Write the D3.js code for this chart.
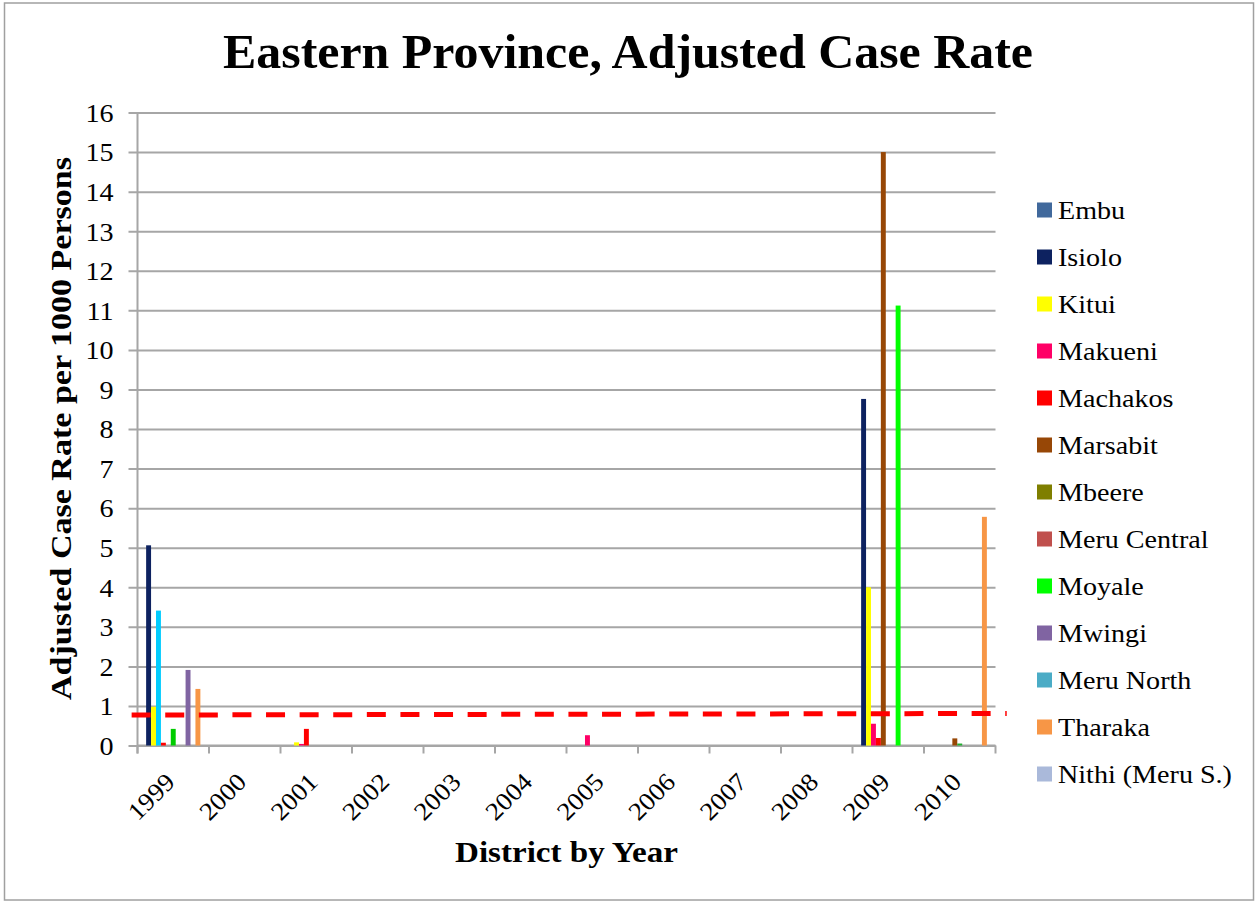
<!DOCTYPE html>
<html>
<head>
<meta charset="utf-8">
<script src="https://cdn.jsdelivr.net/npm/d3@7"></script>
<style>
  html, body { margin: 0; padding: 0; background: #fff; }
  svg { display: block; }
  text { font-family: "Liberation Serif", "Times New Roman", serif; fill: #000; }
</style>
</head>
<body>
<svg id="chart" width="1259" height="903"></svg>
<script>
// ---------- DATA ----------
const years = ["1999","2000","2001","2002","2003","2004","2005","2006","2007","2008","2009","2010"];
const districts = ["Embu","Isiolo","Kitui","Makueni","Machakos","Marsabit","Mbeere","Meru Central","Moyale","Mwingi","Meru North","Tharaka","Nithi (Meru S.)"];
const embu        = [0,    0, 0,    0, 0, 0, 0,    0, 0, 0, 0,     0];
const isiolo      = [5.06, 0, 0,    0, 0, 0, 0,    0, 0, 0, 8.76,  0];
const kitui       = [0.98, 0, 0.08, 0, 0, 0, 0,    0, 0, 0, 4.0,   0];
const makueni     = [3.41, 0, 0.04, 0, 0, 0, 0.26, 0, 0, 0, 0.55,  0];
const machakos    = [0.07, 0, 0.42, 0, 0, 0, 0,    0, 0, 0, 0.19,  0];
const marsabit    = [0,    0, 0,    0, 0, 0, 0,    0, 0, 0, 15.0,  0.18];
const mbeere      = [0.42, 0, 0,    0, 0, 0, 0,    0, 0, 0, 0,     0.05];
const meruCentral = [0,    0, 0,    0, 0, 0, 0,    0, 0, 0, 0,     0];
const moyale      = [0,    0, 0,    0, 0, 0, 0,    0, 0, 0, 11.12, 0];
const mwingi      = [1.91, 0, 0,    0, 0, 0, 0,    0, 0, 0, 0,     0];
const meruNorth   = [0,    0, 0,    0, 0, 0, 0,    0, 0, 0, 0,     0];
const tharaka     = [1.43, 0, 0,    0, 0, 0, 0,    0, 0, 0, 0,     5.78];
const nithi       = [0,    0, 0,    0, 0, 0, 0,    0, 0, 0, 0,     0];
const yTicks = [0,1,2,3,4,5,6,7,8,9,10,11,12,13,14,15,16];
const referenceLevel = [0.77, 0.81]; // dashed reference line, start/end value

// ---------- STYLE ----------
const seriesValues = [embu, isiolo, kitui, makueni, machakos, marsabit, mbeere, meruCentral, moyale, mwingi, meruNorth, tharaka, nithi];
const colors = ["#41699C","#0D2260","#FFFF00","#FF0066","#FF0000","#974706","#7F7F00","#C0504D","#00FF00","#8064A2","#4BACC6","#F79646","#AAB9DA"];
// individually recoloured points (series index, year index)
const pointColor = { "3-0": "#00CCFF", "6-0": "#00CC00", "6-11": "#22B030" };

const W = 1259, H = 903;
const plot = { left: 137.5, right: 995.5, top: 112.5, bottom: 745.5 };
const gridColor = "#A6A6A6";
const STRETCH = 1.08;

const svg = d3.select("#chart");

function stretch(sel, f) {
  sel.each(function() {
    const len = this.getComputedTextLength();
    d3.select(this).attr("textLength", len * f).attr("lengthAdjust", "spacingAndGlyphs");
  });
  return sel;
}

// border
svg.append("rect").attr("x", 4.5).attr("y", 3).attr("width", 1249).attr("height", 897)
  .attr("fill", "#fff").attr("stroke", "#A0A0A0").attr("stroke-width", 1.5);

// scales
const x0 = d3.scaleBand().domain(years).range([plot.left, plot.right]).paddingInner(0).paddingOuter(0);
const x1 = d3.scaleBand().domain(districts).range([0, x0.bandwidth()]).paddingInner(0).paddingOuter(0.75);
const y = d3.scaleLinear().domain([0, 16]).range([plot.bottom, plot.top]);
const xLin = d3.scaleLinear().domain([0, years.length]).range([plot.left, plot.right]);

// y axis with gridlines
const yAxis = d3.axisLeft(y).tickValues(yTicks).tickSize(-(plot.right - plot.left)).tickSizeOuter(0).tickPadding(0).tickFormat(d3.format("d"));
const gy = svg.append("g").attr("transform", `translate(${plot.left},0)`).call(yAxis);
gy.select(".domain").remove();
gy.selectAll(".tick line").attr("stroke", gridColor).attr("stroke-width", 2).attr("x1", -9);
gy.selectAll(".tick text").attr("x", -24).attr("dy", "0.34em").attr("text-anchor", "end")
  .style("font-family", "Liberation Serif").style("font-size", "26px").attr("fill", "#000");
stretch(gy.selectAll(".tick text"), STRETCH);
// vertical axis line
svg.append("line").attr("x1", plot.left).attr("x2", plot.left).attr("y1", plot.top).attr("y2", plot.bottom + 8)
  .attr("stroke", gridColor).attr("stroke-width", 2);

// x axis (baseline and tick marks at group boundaries)
const boundaries = d3.range(years.length + 1);
svg.append("line").attr("x1", plot.left).attr("x2", plot.right).attr("y1", plot.bottom).attr("y2", plot.bottom)
  .attr("stroke", gridColor).attr("stroke-width", 2);
svg.append("g").selectAll("line").data(boundaries).join("line")
  .attr("x1", d => xLin(d)).attr("x2", d => xLin(d))
  .attr("y1", plot.bottom).attr("y2", plot.bottom + 8)
  .attr("stroke", gridColor).attr("stroke-width", 2);

// x tick labels (rotated)
const xl = svg.append("g").selectAll("text").data(years).join("text")
  .attr("transform", d => `translate(${x0(d) + x0.bandwidth() / 2 + 3},${plot.bottom + 38}) rotate(-45)`)
  .attr("text-anchor", "end")
  .style("font-size", "25px")
  .text(d => d);
stretch(xl, STRETCH);

// bars
const barData = [];
seriesValues.forEach((vals, si) => {
  vals.forEach((v, yi) => {
    if (v > 0) barData.push({ si, yi, v });
  });
});
svg.append("g").selectAll("rect").data(barData).join("rect")
  .attr("x", d => x0(years[d.yi]) + x1(districts[d.si]))
  .attr("width", x1.bandwidth())
  .attr("y", d => y(d.v))
  .attr("height", d => y(0) - y(d.v))
  .attr("fill", d => pointColor[`${d.si}-${d.yi}`] || colors[d.si]);

// dashed reference line
const refX = [-0.082, 12.157];
svg.append("line")
  .attr("x1", xLin(refX[0])).attr("y1", y(referenceLevel[0]))
  .attr("x2", xLin(refX[1])).attr("y2", y(referenceLevel[1]))
  .attr("stroke", "#FF0000").attr("stroke-width", 5)
  .attr("stroke-dasharray", "19,14.6");

// legend
const lg = svg.append("g").selectAll("g").data(districts).join("g")
  .attr("transform", (d, i) => `translate(1037,${210 + i * 47})`);
lg.append("rect").attr("x", 0).attr("y", -7.5).attr("width", 15).attr("height", 15)
  .attr("fill", (d, i) => colors[i]);
const lt = lg.append("text").attr("x", 21).attr("y", 9).style("font-size", "26px").text(d => d);
stretch(lt, STRETCH);

// title
svg.append("text").attr("x", 628).attr("y", 68).attr("text-anchor", "middle")
  .style("font-size", "48px").style("font-weight", "bold")
  .attr("textLength", 810).attr("lengthAdjust", "spacingAndGlyphs")
  .text("Eastern Province, Adjusted Case Rate");

// axis titles
svg.append("text").attr("transform", "translate(71,428.5) rotate(-90)").attr("text-anchor", "middle")
  .style("font-size", "29px").style("font-weight", "bold")
  .attr("textLength", 543).attr("lengthAdjust", "spacingAndGlyphs")
  .text("Adjusted Case Rate per 1000 Persons");
svg.append("text").attr("x", 566.5).attr("y", 862).attr("text-anchor", "middle")
  .style("font-size", "29px").style("font-weight", "bold")
  .attr("textLength", 223).attr("lengthAdjust", "spacingAndGlyphs")
  .text("District by Year");
</script>
</body>
</html>
